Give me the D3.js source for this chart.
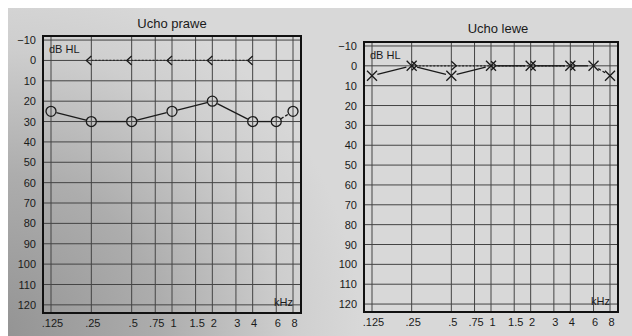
<!DOCTYPE html>
<html>
<head>
<meta charset="utf-8">
<script src="https://cdn.jsdelivr.net/npm/d3@7"></script>
<style>
  body { margin: 0; background: #fff; }
  svg { display: block; font-family: "Liberation Sans", Arial, sans-serif; }
</style>
</head>
<body>
<svg id="chart" width="632" height="336"></svg>
<script>
// frequency axis (kHz)
const freqTicks = [0.125, 0.25, 0.5, 0.75, 1, 1.5, 2, 3, 4, 6, 8];
const freqLabels = ['.125', '.25', '.5', '.75', '1', '1.5', '2', '3', '4', '6', '8'];
// hearing level axis (dB HL)
const dbTicks = [-10, 0, 10, 20, 30, 40, 50, 60, 70, 80, 90, 100, 110, 120];

// air conduction
const airFreqs = [0.125, 0.25, 0.5, 1, 2, 4, 6, 8];
const rightAir = [25, 30, 30, 25, 20, 30, 30, 25];
const leftAir = [5, 0, 5, 0, 0, 0, 0, 5];

// bone conduction
const boneFreqs = [0.25, 0.5, 1, 2, 4];
const rightBone = [0, 0, 0, 0, 0];
const leftBone = [0, 0, 0, 0, 0];

const svg = d3.select('#chart');

// photo-ish paper shading, darker towards bottom left
const grad = svg.append('defs').append('radialGradient')
  .attr('id', 'shade')
  .attr('gradientUnits', 'userSpaceOnUse')
  .attr('cx', 0).attr('cy', 336).attr('r', 360);
grad.append('stop').attr('offset', 0).attr('stop-color', '#939393');
grad.append('stop').attr('offset', 0.45).attr('stop-color', '#adadad');
grad.append('stop').attr('offset', 0.8).attr('stop-color', '#cecece');
grad.append('stop').attr('offset', 1).attr('stop-color', '#d8d8d8');

svg.append('rect')
  .attr('x', 8).attr('y', 8)
  .attr('width', 624).attr('height', 328)
  .attr('fill', 'url(#shade)');

const ink = '#1a1a1a';
const gridInk = '#444';

// line between two points, trimmed so it stops at the symbols
function trimmed(x1, y1, x2, y2, gap) {
  const dx = x2 - x1, dy = y2 - y1;
  const len = Math.sqrt(dx * dx + dy * dy);
  const ux = dx / len, uy = dy / len;
  return [x1 + ux * gap, y1 + uy * gap, x2 - ux * gap, y2 - uy * gap];
}

function drawPanel(cfg) {
  const x = d3.scaleLog().domain([0.125, 8]).range(cfg.xRange);
  const y = d3.scaleLinear().domain([-12, 124]).range(cfg.yRange);

  const left = x(0.125) - 8, right = x(8) + 8;
  const top = y(-12), bottom = y(124);

  const g = svg.append('g');

  // grid
  g.append('g').selectAll('line')
    .data(freqTicks)
    .join('line')
    .attr('x1', d => x(d)).attr('x2', d => x(d))
    .attr('y1', top).attr('y2', bottom)
    .attr('stroke', gridInk).attr('stroke-width', 1);

  g.append('g').selectAll('line')
    .data(dbTicks)
    .join('line')
    .attr('x1', left).attr('x2', right)
    .attr('y1', d => y(d)).attr('y2', d => y(d))
    .attr('stroke', gridInk).attr('stroke-width', 1);

  // frame
  g.append('rect')
    .attr('x', left).attr('y', top)
    .attr('width', right - left).attr('height', bottom - top)
    .attr('fill', 'none').attr('stroke', '#111').attr('stroke-width', 2);

  // axes (labels only)
  const yAxis = g.append('g')
    .attr('transform', `translate(${left},0)`)
    .call(d3.axisLeft(y).tickValues(dbTicks).tickSize(0).tickPadding(7));
  yAxis.select('.domain').remove();
  yAxis.selectAll('text').attr('font-size', 11).attr('fill', ink)
    .attr('font-family', '"Liberation Sans", Arial, sans-serif');

  const xAxis = g.append('g')
    .attr('transform', `translate(1,${bottom})`)
    .call(d3.axisBottom(x).tickValues(freqTicks).tickSize(0).tickPadding(6)
      .tickFormat((d, i) => freqLabels[i]));
  xAxis.select('.domain').remove();
  xAxis.selectAll('text').attr('font-size', 11).attr('fill', ink)
    .attr('font-family', '"Liberation Sans", Arial, sans-serif');

  // texts
  g.append('text')
    .attr('x', (left + right) / 2 + cfg.titleDx).attr('y', top - 8 + cfg.titleDy)
    .attr('text-anchor', 'middle').attr('font-size', 13).attr('fill', ink)
    .text(cfg.title);

  g.append('text')
    .attr('x', left + 6).attr('y', y(-10) + 13)
    .attr('font-size', 11).attr('fill', ink)
    .text('dB HL');

  g.append('text')
    .attr('x', right - 27).attr('y', y(120) + 1)
    .attr('font-size', 11).attr('fill', ink)
    .text('kHz');

  // bone conduction: dotted connector + < / > symbols
  const bdir = cfg.boneDir;
  g.append('line')
    .attr('x1', x(boneFreqs[0]))
    .attr('x2', x(boneFreqs[boneFreqs.length - 1]) + 5 * bdir)
    .attr('y1', y(cfg.bone[0])).attr('y2', y(cfg.bone[cfg.bone.length - 1]))
    .attr('stroke', '#2a2a2a').attr('stroke-width', 1.2)
    .attr('stroke-dasharray', '2,1.6');

  g.append('g').selectAll('path')
    .data(boneFreqs.map((f, i) => ({ f, v: cfg.bone[i] })))
    .join('path')
    .attr('d', d => {
      const cx = x(d.f), cy = y(d.v);
      return `M${cx},${cy - 4.5}L${cx + 5 * bdir},${cy}L${cx},${cy + 4.5}`;
    })
    .attr('fill', 'none').attr('stroke', ink).attr('stroke-width', 1.3);

  // air conduction: segments + symbols
  const pts = airFreqs.map((f, i) => [x(f), y(cfg.air[i])]);
  const segs = d3.pairs(pts);
  g.append('g').selectAll('line')
    .data(segs)
    .join('line')
    .each(function (d, i) {
      const t = trimmed(d[0][0], d[0][1], d[1][0], d[1][1], 5.5);
      d3.select(this)
        .attr('x1', t[0]).attr('y1', t[1]).attr('x2', t[2]).attr('y2', t[3])
        .attr('stroke-dasharray', i === segs.length - 1 ? '3,2' : null);
    })
    .attr('stroke', ink).attr('stroke-width', 1.3);

  if (cfg.mark === 'circle') {
    g.append('g').selectAll('circle')
      .data(pts)
      .join('circle')
      .attr('cx', d => d[0]).attr('cy', d => d[1]).attr('r', 5)
      .attr('fill', 'none').attr('stroke', ink).attr('stroke-width', 1.3);
  } else {
    g.append('g').selectAll('path')
      .data(pts)
      .join('path')
      .attr('d', d => `M${d[0] - 5},${d[1] - 5}L${d[0] + 5},${d[1] + 5}M${d[0] - 5},${d[1] + 5}L${d[0] + 5},${d[1] - 5}`)
      .attr('fill', 'none').attr('stroke', ink).attr('stroke-width', 1.3);
  }
}

drawPanel({
  title: 'Ucho prawe', titleDx: 0, titleDy: 0,
  xRange: [51, 293], yRange: [36, 313],
  air: rightAir, bone: rightBone, mark: 'circle', boneDir: -1
});

drawPanel({
  title: 'Ucho lewe', titleDx: 7, titleDy: -1,
  xRange: [372, 610], yRange: [42, 312],
  air: leftAir, bone: leftBone, mark: 'cross', boneDir: 1
});
</script>
</body>
</html>
